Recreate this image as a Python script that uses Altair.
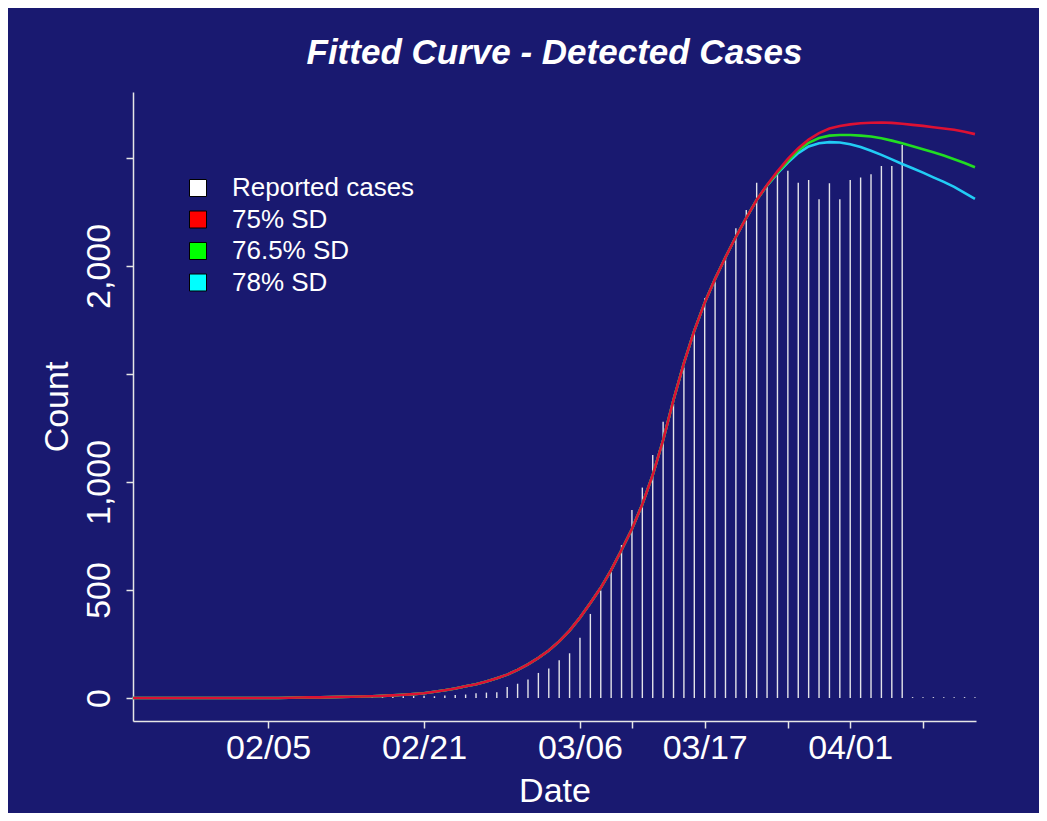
import altair as alt
import pandas as pd

# ---------------- data ----------------
# fitted curve for 75% SD, one value per day index 0..81
red_curve = [0] * 15 + [
    1, 2, 3, 3, 4, 5, 6, 7, 8, 10,            # 15-24
    12, 15, 18, 22, 29, 36, 44, 54, 64, 76,   # 25-34
    91, 108, 130, 156, 186, 220, 262, 312, 372, 440,   # 35-44
    510, 592, 685, 782, 897, 1032, 1194, 1380, 1550, 1700,  # 45-54
    1830, 1940, 2040, 2135, 2222, 2305, 2375, 2438, 2495, 2545,  # 55-64
    2585, 2615, 2636, 2648, 2655, 2660, 2663, 2664, 2662, 2658,  # 65-74
    2653, 2648, 2642, 2636, 2630, 2621, 2610,  # 75-81
]
# 76.5% SD and 78% SD follow the same curve until day 60, then:
green_tail = [2373, 2432, 2485, 2535, 2570, 2592, 2603, 2606, 2606, 2603,
              2599, 2591, 2580, 2568, 2554, 2540, 2526, 2511, 2494, 2476, 2457]
cyan_tail = [2372, 2428, 2478, 2522, 2553, 2568, 2573, 2571, 2563, 2550,
             2533, 2514, 2493, 2472, 2452, 2432, 2410, 2389, 2366, 2338, 2310]
split_day = 61

# reported daily cases, day index 16..81
first_bar_day = 16
reported = [3, 3, 3, 4, 4, 5, 5, 6, 6, 7, 8, 9, 10, 8,
            12, 14, 16, 22, 25, 27,
            51, 66, 86, 116, 136,
            175, 207, 279, 389, 497,
            600, 708, 870, 974, 1125,
            1279, 1361, 1530, 1700, 1850,
            1924, 2046, 2174, 2259, 2385,
            2374, 2440, 2440, 2385, 2398,
            2309, 2383, 2309, 2398, 2409,
            2424, 2463, 2463, 2560,
            4, 4, 4, 4, 4, 4, 4]

tick_days = [13, 28, 43, 48, 55, 63, 69, 76]
tick_labels = ["02/05", "02/21", "03/06", "", "03/17", "", "04/01", ""]
y_ticks = [0, 500, 1000, 1500, 2000, 2500]
y_labeled = [0, 500, 1000, 2000]

series_names = ["Reported cases", "75% SD", "76.5% SD", "78% SD"]
legend_fill = ["#ffffff", "#ff0000", "#00ff00", "#00ffff"]

title_text = "Fitted Curve - Detected Cases"

# ---------------- tables ----------------
days = list(range(len(red_curve)))
green_curve = red_curve[:split_day] + green_tail
cyan_curve = red_curve[:split_day] + cyan_tail

bars_df = pd.DataFrame({"day": list(range(first_bar_day, first_bar_day + len(reported))),
                        "count": reported})
red_df = pd.DataFrame({"day": days, "count": red_curve})
green_df = pd.DataFrame({"day": days, "count": green_curve})
cyan_df = pd.DataFrame({"day": days, "count": cyan_curve})
legend_df = pd.DataFrame({"day": [0] * 4, "count": [0] * 4, "series": series_names})
title_df = pd.DataFrame({"t": [title_text]})

FONT = "Liberation Sans"
AXIS_COL = "#e6e6e6"
BG = "#191970"

label_expr = " : ".join(
    f"datum.value == {d} ? '{l}'" for d, l in zip(tick_days, tick_labels)
) + " : ''"
y_label_expr = " : ".join(
    f"datum.value == {v} ? '{v:,}'" for v in y_labeled
) + " : ''"

xscale = alt.Scale(domain=[0, 81.1], nice=False, zero=False)
yscale = alt.Scale(domain=[-106.5, 2805], nice=False, zero=False)

x_axis = alt.Axis(values=tick_days, labelExpr=label_expr, grid=False,
                  tickSize=7, tickColor=AXIS_COL, tickWidth=1.5,
                  domainColor=AXIS_COL, domainWidth=1.5,
                  labelColor="white", labelFont=FONT, labelFontSize=34,
                  labelBaseline="alphabetic", labelPadding=30,
                  labelFlush=False, labelOverlap=False,
                  title="Date", titleColor="white", titleFont=FONT,
                  titleFontSize=34, titleFontWeight="normal",
                  titleBaseline="alphabetic", titleY=80)
y_axis = alt.Axis(values=y_ticks, labelExpr=y_label_expr, grid=False,
                  tickSize=7, tickColor=AXIS_COL, tickWidth=1.5,
                  domainColor=AXIS_COL, domainWidth=1.5,
                  labelColor="white", labelFont=FONT, labelFontSize=34,
                  labelAngle=270, labelAlign="center", labelBaseline="alphabetic",
                  labelPadding=17, labelOverlap=False, labelFlush=False,
                  title="Count", titleColor="white", titleFont=FONT,
                  titleFontSize=34, titleFontWeight="normal",
                  titleAngle=270, titleAlign="center", titleBaseline="alphabetic",
                  titleX=-66, titleY=314.5)

legend_layer = alt.Chart(legend_df).mark_square(size=1, opacity=1).encode(
    x=alt.X("day:Q", scale=xscale, axis=x_axis),
    y=alt.Y("count:Q", scale=yscale, axis=y_axis),
    fill=alt.Fill("series:N",
                  scale=alt.Scale(domain=series_names, range=legend_fill),
                  legend=alt.Legend(title=None, orient="none", legendX=52, legendY=83,
                                    padding=0, symbolType="square", symbolSize=289,
                                    symbolStrokeColor="black", symbolStrokeWidth=1,
                                    symbolOpacity=1,
                                    labelColor="white", labelFont=FONT,
                                    labelFontSize=26, labelOffset=21, labelLimit=400,
                                    rowPadding=5.5)),
)

bars = alt.Chart(bars_df).mark_rule(color="#e4e4ea", strokeWidth=1.4).encode(
    x=alt.X("day:Q", scale=xscale),
    y=alt.Y("count:Q", scale=yscale),
    y2=alt.datum(0),
)

def curve(df, color):
    return alt.Chart(df).mark_line(color=color, strokeWidth=2.6).encode(
        x=alt.X("day:Q", scale=xscale),
        y=alt.Y("count:Q", scale=yscale),
    )

title_layer = alt.Chart(title_df).mark_text(
    font=FONT, fontSize=35, fontWeight="bold", fontStyle="italic",
    color="white", align="center", baseline="alphabetic",
).encode(text="t:N", x=alt.value(421.5), y=alt.value(-28))

chart = alt.layer(
    legend_layer, bars,
    curve(cyan_df, "#22ccf5"), curve(green_df, "#22dd22"), curve(red_df, "#dd1133"),
    title_layer,
).properties(
    width=843, height=629,
    autosize=alt.AutoSizeParams(type="none"),
    padding={"left": 125, "top": 84, "right": 63, "bottom": 92},
    background=BG,
).configure_view(stroke=None)

chart.save("out.html", embed_options={"renderer": "svg", "actions": False})
